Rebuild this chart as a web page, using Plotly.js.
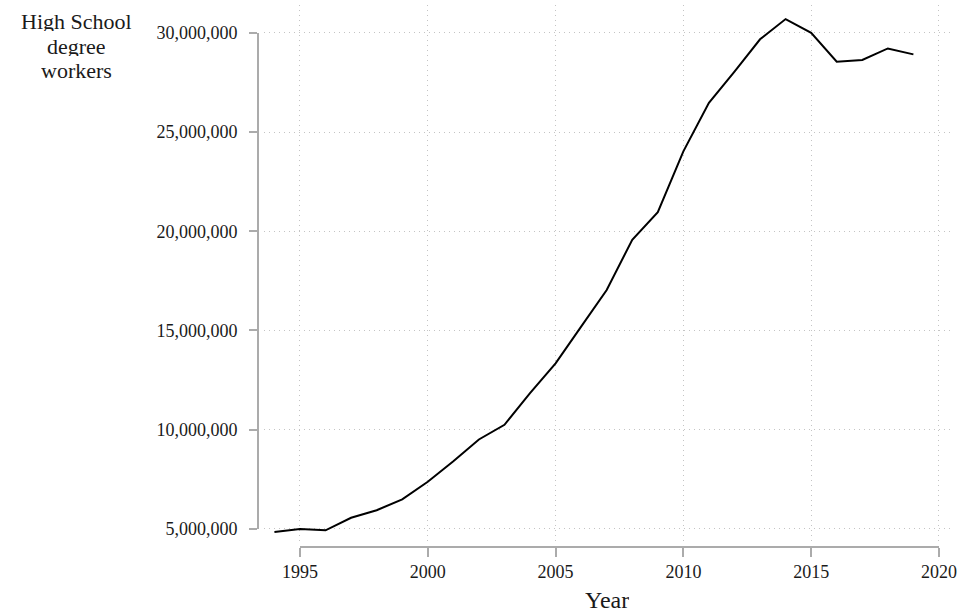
<!DOCTYPE html>
<html>
<head>
<meta charset="utf-8">
<script src="https://cdn.plot.ly/plotly-3.0.1.min.js"></script>
<style>
  html, body { margin: 0; padding: 0; background: #ffffff; }
  #chart { width: 962px; height: 614px; }
</style>
</head>
<body>
<div id="chart"></div>
<script>
// Workers holding a high school degree, by year
const years = [1994, 1995, 1996, 1997, 1998, 1999, 2000, 2001, 2002, 2003, 2004, 2005, 2006,
               2007, 2008, 2009, 2010, 2011, 2012, 2013, 2014, 2015, 2016, 2017, 2018, 2019];
const workers = [4830000, 4980000, 4920000, 5550000, 5930000, 6480000, 7370000, 8400000,
                 9500000, 10240000, 11840000, 13340000, 15190000, 17040000, 19570000,
                 20960000, 24030000, 26480000, 28050000, 29680000, 30700000, 30010000,
                 28550000, 28640000, 29220000, 28920000];

const xTicks = [1995, 2000, 2005, 2010, 2015, 2020];
const yTicks = [5000000, 10000000, 15000000, 20000000, 25000000, 30000000];
const yTitleLines = ['High School', 'degree', 'workers'];
const xTitle = 'Year';

const W = 962, H = 614;
const fx = px => px / W;          // pixel column -> paper x
const fy = py => 1 - py / H;      // pixel row -> paper y

const FONT = 'Liberation Serif, DejaVu Serif, serif';
const INK = '#1a1a1a';
const AXIS_GREY = '#ababab';
const GRID_GREY = '#c4c4c4';

const traces = [
  {
    type: 'scatter',
    mode: 'lines',
    x: years,
    y: workers,
    line: { color: '#000000', width: 2 },
    xaxis: 'x', yaxis: 'y',
    showlegend: false,
    hoverinfo: 'x+y'
  },
  // empty trace so the labelled (offset) axes get their own subplot
  {
    type: 'scatter', mode: 'none', x: [], y: [],
    xaxis: 'x2', yaxis: 'y2', showlegend: false, hoverinfo: 'skip'
  }
];

// stacked y-axis title, one line per annotation
const annotations = yTitleLines.map((t, i) => ({
  text: t, xref: 'paper', yref: 'paper',
  x: fx(76), y: fy(21 + i * 24.5),
  xanchor: 'center', yanchor: 'middle', showarrow: false,
  height: 20, borderpad: 0,
  font: { family: FONT, size: 22, color: INK }
}));
annotations.push({
  text: xTitle, xref: 'paper', yref: 'paper',
  x: fx(607), y: fy(600),
  xanchor: 'center', yanchor: 'middle', showarrow: false,
  height: 20, borderpad: 0,
  font: { family: FONT, size: 24, color: INK }
});

const layout = {
  width: W, height: H,
  margin: { l: 0, r: 0, t: 0, b: 0, pad: 0 },
  paper_bgcolor: '#ffffff',
  plot_bgcolor: 'rgba(0,0,0,0)',
  font: { family: FONT, size: 18, color: INK },
  showlegend: false,
  // plotting area: dotted grid only
  xaxis: {
    domain: [fx(264.2), fx(954.3)],
    range: [1993.6, 2020.6],
    tickvals: xTicks,
    showticklabels: false, ticks: '',
    showline: false, zeroline: false,
    showgrid: true, gridcolor: GRID_GREY, gridwidth: 1, griddash: '1px,4px'
  },
  yaxis: {
    domain: [fy(540.6), fy(5.2)],
    range: [4400000, 31400000],
    tickvals: yTicks,
    showticklabels: false, ticks: '',
    showline: false, zeroline: false,
    showgrid: true, gridcolor: GRID_GREY, gridwidth: 1, griddash: '1px,4px'
  },
  // labelled axes, offset from the plotting area and spanning only the tick range
  xaxis2: {
    domain: [fx(300), fx(939)],
    range: [1995, 2020],
    anchor: 'free', position: fy(546.7),
    tickvals: xTicks,
    ticks: 'outside', ticklen: 9, tickwidth: 2, tickcolor: AXIS_GREY,
    showline: true, linecolor: AXIS_GREY, linewidth: 2,
    showgrid: false, zeroline: false,
    tickfont: { family: FONT, size: 18, color: INK }
  },
  yaxis2: {
    domain: [fy(528.7), fy(33)],
    range: [5000000, 30000000],
    anchor: 'free', position: fx(258), side: 'left',
    tickvals: yTicks, tickformat: ',d',
    ticks: 'outside', ticklen: 8, tickwidth: 2, tickcolor: AXIS_GREY,
    ticklabelstandoff: 8,
    showline: true, linecolor: AXIS_GREY, linewidth: 2,
    showgrid: false, zeroline: false,
    tickfont: { family: FONT, size: 18, color: INK }
  },
  annotations: annotations
};

Plotly.newPlot('chart', traces, layout, { displayModeBar: false });
</script>
</body>
</html>
